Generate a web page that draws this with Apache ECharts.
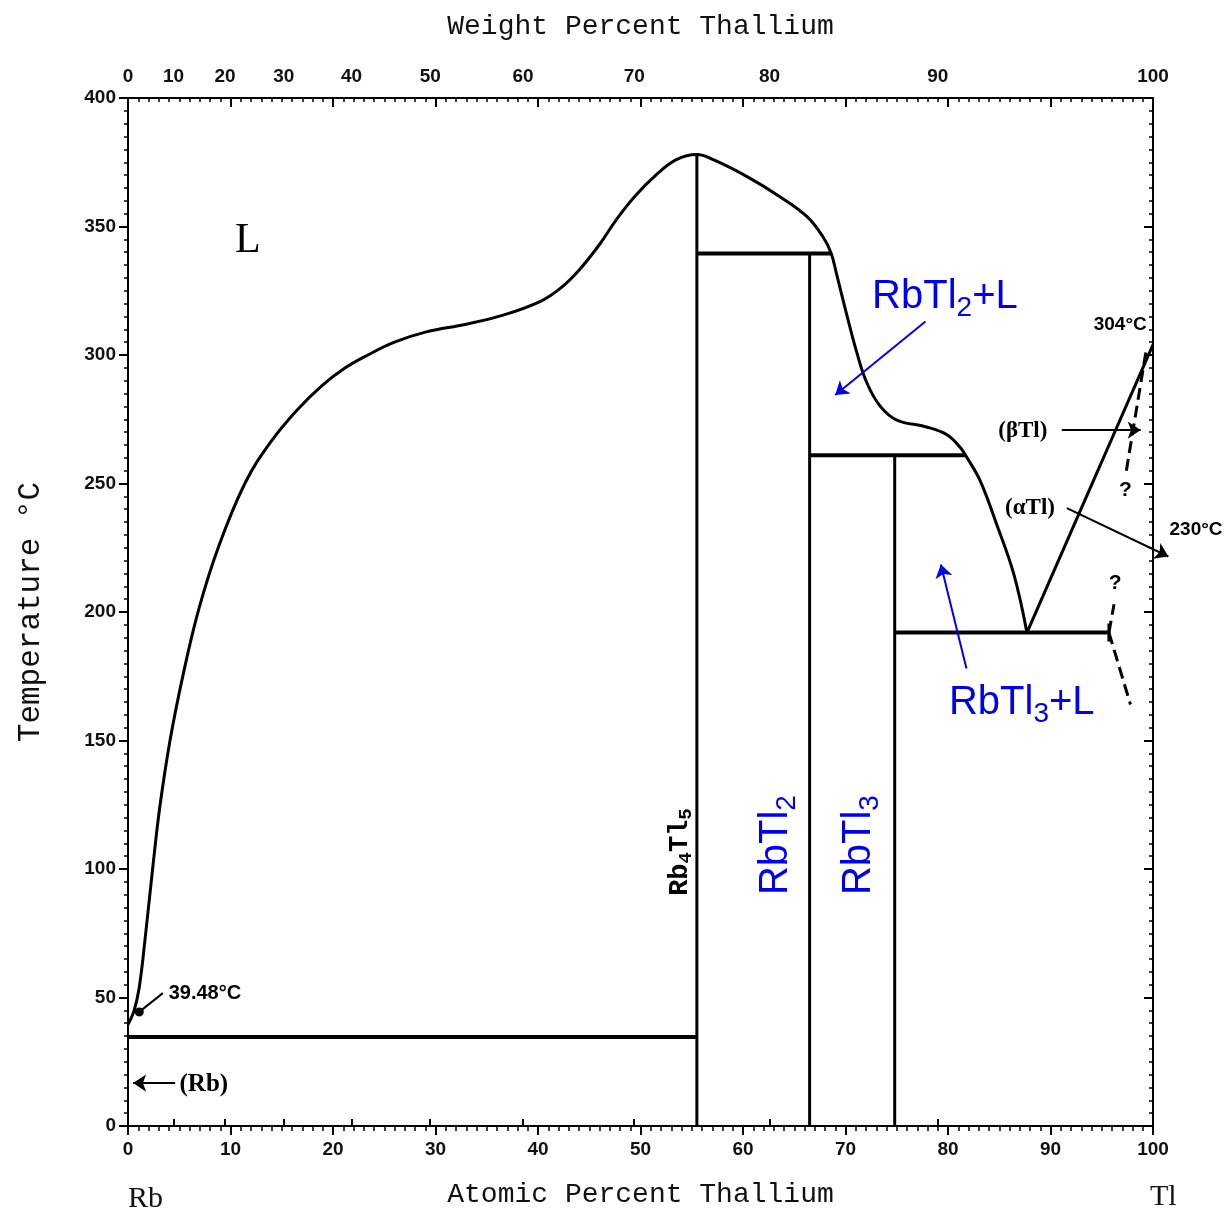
<!DOCTYPE html>
<html><head><meta charset="utf-8">
<script src="https://cdn.jsdelivr.net/npm/echarts@6/dist/echarts.min.js"></script>
<style>html,body{margin:0;padding:0;background:#fff}#c{width:1224px;height:1218px}</style>
</head><body><div id="c"></div>
<script>
// ---------- data (x = at.% Tl, y = °C) ----------
const liquidusRb = [[0,39.48],[0.6,45],[1.1,54],[1.7,74],[2.4,100],[3.1,124],[4.1,150],[5.4,176],[6.9,201],[8.8,225],[11.4,250],[13.9,266],[16.6,279],[18.9,288],[21.2,295],[23.4,300],[26,305],[29.1,309],[33,312],[36.6,315.5],[40.3,321],[42.2,326],[44,333],[46,343],[47.7,353],[49.5,362],[51.5,370],[53.5,376],[55.5,378]];
const liquidusMid = [[55.5,378],[57.1,376],[60.4,369.4],[63.6,361.6],[66.2,354],[67.8,346],[68.6,339.6],[69.1,332],[70.1,316],[71.1,301],[72.1,289],[73.4,280],[75,274.7],[77.9,272],[79.9,269],[81.2,264],[81.8,260.4],[83.1,251.4],[84.7,234.6],[86.4,215],[87.7,192]];
const liquidusTl = [[87.7,192],[100,304]];
const eutecticRb = [[0,34.6],[55.5,34.6]];
const peritectic339 = [[55.5,339.5],[68.6,339.5]];
const peritectic261 = [[66.5,261],[81.7,261]];
const eutecticTl = [[74.8,192],[95.7,192]];
const eutecticTlEnd = [[95.7,188.5],[95.7,195.5]];
const lineRb4Tl5 = [[55.5,0],[55.5,378]];
const lineRbTl2 = [[66.5,0],[66.5,339.5]];
const lineRbTl3 = [[74.8,0],[74.8,261]];
const solvusUpper = [[99.3,301],[97.4,255]];
const solvusLowerUp = [[95.7,192],[96.2,203]];
const solvusLowerDown = [[95.7,192],[97.8,164]];
const weightTicks = [0,10,20,30,40,50,60,70,80,90,100];
const MASS_RB = 85.468, MASS_TL = 204.38;
function wtToAt(w){ const a=w/MASS_TL, b=(100-w)/MASS_RB; return 100*a/(a+b); }
const weightPos = weightTicks.map(wtToAt);

const BLK = '#000', BLUE = '#0000f0';
const tickFont = {fontFamily:'Liberation Sans Narrow, Liberation Sans', fontWeight:'bold', fontSize:19, color:'#111'};
const titleFont = {fontFamily:'Liberation Mono', fontSize:28, color:'#111'};

function line(data, opts){
  opts = opts || {};
  return {type:'line', data:data, showSymbol:false, symbol:'none', smooth:opts.smooth||false,
    lineStyle:{color:BLK, width:opts.width||3, type:opts.type||'solid'}, z:5, silent:true, clip:false, animation:false};
}
function arrow(from, to, color, sym){
  return {type:'lines', coordinateSystem:'cartesian2d', clip:false, symbol:['none', sym||'arrow'], symbolSize: sym==='circle'?9:13,
    lineStyle:{color:color, width:2, opacity:1}, data:[{coords:[from,to]}], z:6, silent:true, animation:false};
}
function text(pt, fmt, style, rich){
  return {type:'scatter', data:[pt], symbolSize:1, itemStyle:{color:'rgba(0,0,0,0)', opacity:1}, clip:false, silent:true, animation:false, z:7,
    label:Object.assign({show:true, position:'inside', opacity:1, formatter:fmt, rich:rich||{}}, style)};
}
const richBlue = {s:{fontFamily:'Liberation Sans', fontSize:28, color:BLUE, lineHeight:30, padding:[22,0,0,0]}};
const blueStyle = {fontFamily:'Liberation Sans', fontSize:40, color:BLUE, lineHeight:44};
const serifBold = {fontFamily:'Liberation Serif', fontWeight:'bold', fontSize:23, color:'#000'};
const narrowBold = {fontFamily:'Liberation Sans Narrow, Liberation Sans', fontWeight:'bold', fontSize:19, color:'#000'};

const chart = echarts.init(document.getElementById('c'));
chart.setOption({
  animation:false,
  backgroundColor:'#fff',
  grid:{left:128, right:71, top:98, bottom:92},
  xAxis:[
    {type:'value', position:'bottom', min:0, max:100, interval:10,
     axisLine:{show:true, onZero:false, lineStyle:{color:BLK, width:2}},
     axisTick:{show:true, length:9, lineStyle:{color:BLK, width:2}},
     minorTick:{show:true, splitNumber:10, length:5, lineStyle:{color:BLK, width:1.5}},
     splitLine:{show:false}, axisLabel:Object.assign({margin:14}, tickFont),
     name:'Atomic Percent Thallium', nameLocation:'middle', nameGap:55, nameTextStyle:titleFont},
    {type:'value', position:'top', min:0, max:100, interval:10,
     axisLine:{show:true, onZero:false, lineStyle:{color:BLK, width:2}},
     axisTick:{show:true, inside:true, length:9, lineStyle:{color:BLK, width:2}},
     minorTick:{show:true, splitNumber:10, length:4, lineStyle:{color:BLK, width:1.5}},
     splitLine:{show:false}, axisLabel:{show:false}},
    {type:'value', position:'top', min:0, max:100,
     axisLine:{show:false},
     axisTick:{show:true, inside:false, length:7, customValues:weightPos, lineStyle:{color:BLK, width:2}},
     splitLine:{show:false},
     axisLabel:Object.assign({show:true, margin:12, customValues:weightPos,
       formatter:function(v){ let best=0; for(let i=0;i<weightPos.length;i++){ if(Math.abs(weightPos[i]-v)<Math.abs(weightPos[best]-v)) best=i; } return String(weightTicks[best]); }}, tickFont),
     name:'Weight Percent Thallium', nameLocation:'middle', nameGap:57, nameTextStyle:titleFont}
  ],
  yAxis:[
    {type:'value', position:'left', min:0, max:400, interval:50,
     axisLine:{show:true, onZero:false, lineStyle:{color:BLK, width:2}},
     axisTick:{show:true, length:9, lineStyle:{color:BLK, width:2}},
     minorTick:{show:true, splitNumber:10, length:4, lineStyle:{color:BLK, width:1.5}},
     splitLine:{show:false}, axisLabel:Object.assign({margin:12}, tickFont),
     name:'Temperature °C', nameLocation:'middle', nameGap:82, nameRotate:90,
     nameTextStyle:{fontFamily:'Liberation Mono', fontSize:31, color:'#111'}},
    {type:'value', position:'right', min:0, max:400, interval:50,
     axisLine:{show:true, onZero:false, lineStyle:{color:BLK, width:2}},
     axisTick:{show:true, inside:true, length:9, lineStyle:{color:BLK, width:2}},
     minorTick:{show:true, splitNumber:10, length:4, lineStyle:{color:BLK, width:1.5}},
     splitLine:{show:false}, axisLabel:{show:false}}
  ],
  graphic:[
    {type:'text', left:128, top:1184, style:{text:'Rb', font:'30px "Liberation Serif"', fill:'#111'}},
    {type:'text', left:1150, top:1182, style:{text:'Tl', font:'30px "Liberation Serif"', fill:'#111'}}
  ],
  series:[
    line(liquidusRb.concat(liquidusMid.slice(1)), {smooth:0.4}),
    line(liquidusTl),
    line(eutecticRb, {width:4}),
    line(peritectic339, {width:4}),
    line(peritectic261, {width:4}),
    line(eutecticTl, {width:4}),
    line(eutecticTlEnd, {width:3}),
    line(lineRb4Tl5, {width:3}),
    line(lineRbTl2, {width:3}),
    line(lineRbTl3, {width:3}),
    line(solvusUpper, {type:'dashed', width:3}),
    line(solvusLowerUp, {type:'dashed', width:3}),
    line(solvusLowerDown, {type:'dashed', width:3}),
    arrow([77.8,313],[69.0,284.4], BLUE),
    arrow([81.8,178],[79.3,218.5], BLUE),
    arrow([91.1,270.8],[98.8,270.8], BLK),
    arrow([91.6,240.4],[101.5,221.6], BLK),
    arrow([3.4,51.7],[1.1,44.4], BLK, 'circle'),
    arrow([4.6,16.7],[0.5,16.7], BLK),
    text([11.7,344.5], 'L', {fontFamily:'Liberation Serif', fontSize:42, color:'#000'}),
    text([53.9,106.6], 'Rb{s|4}Tl{s|5}', {fontFamily:'Liberation Mono', fontWeight:'bold', fontSize:27, color:'#000', rotate:90, lineHeight:28},
         {s:{fontFamily:'Liberation Mono', fontWeight:'bold', fontSize:19, color:'#000', lineHeight:20, padding:[12,0,0,0]}}),
    text([63.2,109.3], 'RbTl{s|2}', Object.assign({rotate:90}, blueStyle), richBlue),
    text([71.3,109.3], 'RbTl{s|3}', Object.assign({rotate:90}, blueStyle), richBlue),
    text([79.7,322.6], 'RbTl{s|2}+L', blueStyle, richBlue),
    text([87.2,164.6], 'RbTl{s|3}+L', blueStyle, richBlue),
    text([87.3,270.5], '(βTl)', serifBold),
    text([88.0,240.5], '(αTl)', serifBold),
    text([96.8,311.7], '304°C', narrowBold),
    text([104.2,231.9], '230°C', narrowBold),
    text([97.3,247.5], '?', Object.assign({}, narrowBold, {fontSize:21})),
    text([96.3,211.3], '?', Object.assign({}, narrowBold, {fontSize:21})),
    text([7.5,51.7], '39.48°C', Object.assign({}, narrowBold, {fontSize:20})),
    text([7.4,16], '(Rb)', Object.assign({}, serifBold, {fontSize:25}))
  ]
});
</script></body></html>
